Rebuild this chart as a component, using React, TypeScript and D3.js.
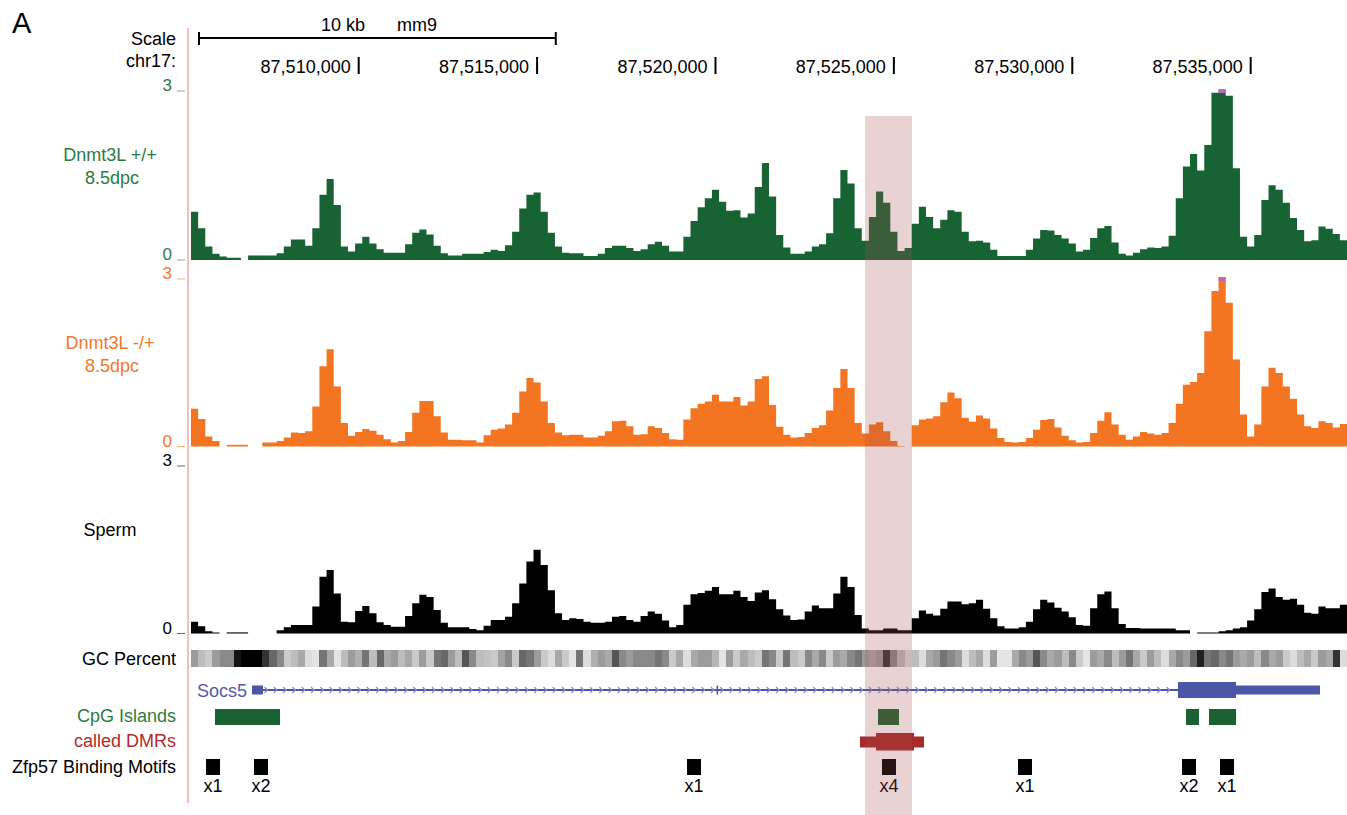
import React from 'react';
import * as d3 from 'd3';

// ---- genomic window (chr17, mm9) ----
const START = 87505300;
const BIN = 200;
const N_BINS = 162;
const END = START + N_BINS * BIN;

const posTicks = [87510000, 87515000, 87520000, 87525000, 87530000, 87535000];

// ---- signal tracks, one value per 200bp bin (null = no data) ----
const dnmtWT = [
  0.85, 0.56, 0.24, 0.11, 0.06, 0.04, 0.04, null, 0.08, 0.08,
  0.08, 0.08, 0.12, 0.24, 0.36, 0.36, 0.25, 0.56, 1.15, 1.43,
  0.97, 0.24, 0.15, 0.29, 0.41, 0.29, 0.19, 0.13, 0.13, 0.13,
  0.28, 0.48, 0.54, 0.45, 0.25, 0.12, 0.08, 0.08, 0.11, 0.11,
  0.11, 0.14, 0.18, 0.16, 0.26, 0.5, 0.91, 1.15, 1.19, 0.85,
  0.48, 0.24, 0.13, 0.12, 0.12, 0.07, 0.07, 0.11, 0.21, 0.25,
  0.25, 0.21, 0.16, 0.19, 0.28, 0.32, 0.25, 0.15, 0.15, 0.41,
  0.69, 0.93, 1.09, 1.24, 1.03, 0.87, 0.88, 0.75, 0.82, 1.29,
  1.71, 1.12, 0.44, 0.22, 0.11, 0.11, 0.15, 0.24, 0.28, 0.47,
  1.09, 1.59, 1.35, 0.56, 0.34, 0.76, 1.21, 1.01, 0.5, 0.16,
  0.21, 0.64, 0.94, 0.76, 0.56, 0.71, 0.88, 0.85, 0.5, 0.33,
  0.34, 0.31, 0.18, 0.07, 0.07, 0.07, 0.07, 0.18, 0.38, 0.53,
  0.52, 0.44, 0.38, 0.29, 0.15, 0.18, 0.39, 0.56, 0.6, 0.31,
  0.11, 0.08, 0.13, 0.19, 0.22, 0.21, 0.24, 0.43, 1.09, 1.65,
  1.87, 1.58, 2.03, 2.95, 3.3, 2.9, 1.62, 0.41, 0.24, 0.44,
  1.06, 1.32, 1.24, 1.01, 0.74, 0.53, 0.33, 0.35, 0.59, 0.55,
  0.46, 0.35,
];

const dnmtHet = [
  0.67, 0.49, 0.18, 0.1, null, 0.03, 0.03, 0.03, null, null,
  0.07, 0.07, 0.1, 0.16, 0.25, 0.24, 0.27, 0.71, 1.43, 1.73,
  1.07, 0.42, 0.19, 0.26, 0.31, 0.28, 0.21, 0.13, 0.07, 0.1,
  0.26, 0.6, 0.81, 0.81, 0.54, 0.25, 0.12, 0.12, 0.11, 0.11,
  0.07, 0.2, 0.3, 0.32, 0.39, 0.6, 0.98, 1.22, 1.14, 0.8,
  0.42, 0.25, 0.2, 0.21, 0.21, 0.16, 0.16, 0.19, 0.27, 0.45,
  0.46, 0.36, 0.21, 0.22, 0.36, 0.33, 0.24, 0.13, 0.12, 0.48,
  0.68, 0.76, 0.8, 0.92, 0.8, 0.8, 0.88, 0.73, 0.8, 1.2,
  1.25, 0.74, 0.35, 0.21, 0.16, 0.17, 0.24, 0.33, 0.38, 0.64,
  1.04, 1.38, 1.04, 0.42, 0.23, 0.39, 0.43, 0.27, 0.1, 0.01,
  null, 0.38, 0.48, 0.5, 0.54, 0.79, 0.96, 0.86, 0.51, 0.44,
  0.55, 0.5, 0.32, 0.15, 0.08, 0.07, 0.08, 0.15, 0.3, 0.47,
  0.49, 0.34, 0.19, 0.11, 0.07, 0.08, 0.24, 0.46, 0.61, 0.39,
  0.21, 0.12, 0.18, 0.26, 0.23, 0.21, 0.24, 0.42, 0.76, 1.1,
  1.15, 1.31, 2.05, 2.77, 3.1, 2.56, 1.55, 0.57, 0.18, 0.39,
  1.07, 1.4, 1.31, 1.07, 0.85, 0.57, 0.36, 0.33, 0.45, 0.42,
  0.34, 0.4,
];

const sperm = [
  0.21, 0.13, 0.04, 0.02, null, 0.02, 0.02, 0.02, null, null,
  null, null, 0.06, 0.11, 0.15, 0.15, 0.15, 0.48, 1.01, 1.13,
  0.71, 0.21, 0.2, 0.4, 0.49, 0.36, 0.2, 0.15, 0.12, 0.12,
  0.31, 0.54, 0.69, 0.65, 0.42, 0.19, 0.11, 0.11, 0.11, 0.08,
  0.06, 0.14, 0.24, 0.24, 0.3, 0.54, 0.89, 1.28, 1.49, 1.22,
  0.77, 0.36, 0.24, 0.27, 0.26, 0.21, 0.19, 0.19, 0.21, 0.3,
  0.31, 0.24, 0.21, 0.31, 0.39, 0.35, 0.23, 0.11, 0.15, 0.51,
  0.7, 0.72, 0.76, 0.83, 0.7, 0.7, 0.76, 0.65, 0.58, 0.73,
  0.77, 0.61, 0.43, 0.32, 0.24, 0.25, 0.39, 0.5, 0.45, 0.45,
  0.71, 1.01, 0.83, 0.33, 0.09, 0.06, 0.06, 0.09, 0.09, 0.06,
  0.06, 0.27, 0.41, 0.35, 0.32, 0.44, 0.57, 0.57, 0.52, 0.54,
  0.6, 0.44, 0.27, 0.13, 0.09, 0.09, 0.11, 0.21, 0.43, 0.6,
  0.55, 0.46, 0.39, 0.29, 0.15, 0.14, 0.45, 0.7, 0.75, 0.45,
  0.17, 0.1, 0.1, 0.09, 0.09, 0.09, 0.09, 0.09, 0.06, 0.06,
  null, 0.02, 0.02, 0.02, 0.04, 0.06, 0.09, 0.11, 0.23, 0.43,
  0.74, 0.8, 0.65, 0.6, 0.62, 0.51, 0.37, 0.35, 0.48, 0.45,
  0.45, 0.51,
];

// GC percent per bin
const gcPercent = [
  46, 41, 39, 46, 49, 49, 67, 70, 70, 70,
  62, 54, 49, 39, 41, 44, 36, 35, 52, 44,
  35, 41, 46, 43, 52, 41, 54, 44, 46, 41,
  44, 39, 46, 39, 52, 54, 46, 41, 57, 49,
  41, 40, 39, 45, 49, 39, 54, 52, 46, 39,
  36, 44, 39, 35, 52, 36, 43, 46, 44, 57,
  49, 46, 49, 49, 49, 52, 49, 39, 44, 36,
  44, 46, 46, 42, 35, 46, 39, 44, 41, 39,
  52, 49, 39, 52, 41, 39, 49, 44, 49, 39,
  46, 44, 49, 52, 46, 44, 46, 62, 49, 41,
  36, 41, 36, 44, 46, 52, 49, 46, 36, 41,
  44, 36, 46, 35, 35, 44, 49, 46, 57, 49,
  44, 46, 41, 49, 39, 35, 46, 44, 49, 41,
  46, 52, 44, 39, 46, 41, 36, 44, 49, 46,
  54, 65, 52, 54, 49, 52, 46, 44, 46, 41,
  49, 44, 46, 39, 36, 41, 44, 39, 46, 44,
  62, 36,
];

// ---- annotation tracks ----
const geneName = 'Socs5';
const geneExons = [
  [87507010, 87507318],
  [87520030, 87520075],
  [87532963, 87536943],
];
const geneCds = [87532963, 87534589];

const cpgIslands = [
  [87505973, 87507794],
  [87524555, 87525144],
  [87533187, 87533551],
  [87533832, 87534589],
];

const dmrOuter = [87524050, 87525844];
const dmrCore = [87524499, 87525564];

const motifPos = [87505917, 87507262, 87519398, 87524863, 87528675, 87533272, 87534337];
const motifLabels = ['x1', 'x2', 'x1', 'x4', 'x1', 'x2', 'x1'];

const highlight = [87524190, 87525508];
const scaleBarStart = 87505524;

const FONT = '"Liberation Sans", Arial, Helvetica, sans-serif';
const FS = 18;

const x = d3.scaleLinear().domain([START, END]).range([191, 1347]);

// split a binned series into contiguous runs of defined values
function runsOf(values: (number | null)[]) {
  const runs: { pos: number; v: number }[][] = [];
  let cur: { pos: number; v: number }[] | null = null;
  values.forEach((v, i) => {
    if (v == null) {
      if (cur) { cur.push({ pos: START + i * BIN, v: cur[cur.length - 1].v }); runs.push(cur); cur = null; }
      return;
    }
    if (!cur) cur = [];
    cur.push({ pos: START + i * BIN, v });
  });
  if (cur) { cur.push({ pos: END, v: cur[cur.length - 1].v }); runs.push(cur); }
  return runs;
}

function SignalTrack({ values, base, top, color, label1, label2, labelY, labelColor }: any) {
  const y = d3.scaleLinear().domain([0, 3]).range([base, top]).clamp(true);
  const area = d3.area<{ pos: number; v: number }>()
    .x((d) => x(d.pos))
    .y0(base)
    .y1((d) => y(d.v))
    .curve(d3.curveStepAfter);
  return (
    <g>
      {runsOf(values).map((run, i) => (
        <path key={i} d={area(run) || ''} fill={color} />
      ))}
      {values.map((v: number | null, i: number) =>
        v != null && v > 3 ? (
          <rect key={i} x={x(START + i * BIN)} width={x(START + (i + 1) * BIN) - x(START + i * BIN)}
            y={y(3) - 1} height={4} fill="#c266b4" />
        ) : null
      )}
      <text x={172} y={top + 1} textAnchor="end" fontSize={17} fill={labelColor}>3</text>
      <line x1={177} x2={185} y1={top + 1} y2={top + 1} stroke={labelColor} strokeOpacity={0.6} />
      <text x={172} y={base} textAnchor="end" fontSize={17} fill={labelColor}>0</text>
      <line x1={177} x2={185} y1={base} y2={base} stroke={labelColor} strokeOpacity={0.6} />
      <text x={110} y={labelY} textAnchor="middle" fontSize={FS} fill={labelColor}>{label1}</text>
      {label2 && <text x={112} y={labelY + 23} textAnchor="middle" fontSize={FS} fill={labelColor}>{label2}</text>}
    </g>
  );
}

export default function App() {
  const gcColor = (p: number) => {
    const g = Math.round(Math.max(0, Math.min(228, 228 - ((p - 35) / 35) * 228)));
    return `rgb(${g},${g},${g})`;
  };

  // intron chevrons
  const geneY = 690;
  const intronL = x(geneExons[0][1]) + 4;
  const intronR = x(geneExons[2][0]) - 3;
  const chevrons: number[] = [];
  for (let cx = intronL; cx < intronR; cx += 9.3) chevrons.push(cx);

  return (
    <svg
      width={1347}
      height={815}
      style={{ position: 'absolute', left: 0, top: 0, background: '#fff' }}
      fontFamily={FONT}
    >
      <rect width={1347} height={815} fill="#fff" />
      <text x={12} y={33} fontSize={29} fill="#000">A</text>

      {/* scale bar + coordinates */}
      <text x={176} y={45} textAnchor="end" fontSize={FS}>Scale</text>
      <text x={176} y={67} textAnchor="end" fontSize={FS}>chr17:</text>
      <line x1={x(scaleBarStart)} x2={x(scaleBarStart + 10000)} y1={38} y2={38} stroke="#000" strokeWidth={2} />
      <line x1={x(scaleBarStart)} x2={x(scaleBarStart)} y1={32} y2={45} stroke="#000" strokeWidth={2} />
      <line x1={x(scaleBarStart + 10000)} x2={x(scaleBarStart + 10000)} y1={32} y2={45} stroke="#000" strokeWidth={2} />
      <text x={343} y={31} textAnchor="middle" fontSize={FS}>10 kb</text>
      <text x={417} y={31} textAnchor="middle" fontSize={FS}>mm9</text>
      {posTicks.map((p) => (
        <g key={p}>
          <line x1={x(p)} x2={x(p)} y1={57} y2={74} stroke="#000" strokeWidth={2} />
          <text x={x(p) - 8} y={73} textAnchor="end" fontSize={FS}>{d3.format(',')(p)}</text>
        </g>
      ))}

      <SignalTrack values={dnmtWT} base={260} top={90} color="#186333"
        label1="Dnmt3L +/+" label2="8.5dpc" labelY={161} labelColor="#2e7b3d" />
      <SignalTrack values={dnmtHet} base={446.5} top={278} color="#f37421"
        label1="Dnmt3L -/+" label2="8.5dpc" labelY={349} labelColor="#f3772a" />
      <SignalTrack values={sperm} base={633.5} top={465} color="#000"
        label1="Sperm" label2={null} labelY={536} labelColor="#000" />

      {/* GC percent */}
      <text x={176} y={665} textAnchor="end" fontSize={FS}>GC Percent</text>
      <g shapeRendering="crispEdges">
        {gcPercent.map((p, i) => (
          <rect key={i} x={x(START + i * BIN)} width={x(START + (i + 1) * BIN) - x(START + i * BIN) + 0.5}
            y={650} height={17} fill={gcColor(p)} />
        ))}
      </g>

      {/* gene */}
      <text x={197} y={697} fontSize={FS} fill="#5259a8">{geneName}</text>
      <rect x={x(geneExons[0][0])} width={x(geneExons[2][1]) - x(geneExons[0][0])} y={geneY - 1} height={2} fill="#4c56a6" />
      {chevrons.map((cx, i) => (
        <path key={i} d={`M${cx - 2.5},${geneY - 3} L${cx + 0.5},${geneY} L${cx - 2.5},${geneY + 3}`}
          fill="none" stroke="#8a90cc" strokeWidth={1.2} />
      ))}
      {geneExons.map(([s, e], i) => (
        <rect key={i} x={x(s)} width={Math.max(1.5, x(e) - x(s))} y={geneY - 4.5} height={9} fill="#4c56a6" />
      ))}
      <rect x={x(geneCds[0])} width={x(geneCds[1]) - x(geneCds[0])} y={geneY - 8} height={16} fill="#4c56a6" />

      {/* CpG islands */}
      <text x={176} y={722} textAnchor="end" fontSize={FS} fill="#2e7b3d">CpG Islands</text>
      {cpgIslands.map(([s, e], i) => (
        <rect key={i} x={x(s)} width={x(e) - x(s)} y={709} height={16} fill="#1b6232" />
      ))}

      {/* DMRs */}
      <text x={176} y={747} textAnchor="end" fontSize={FS} fill="#b22a2a">called DMRs</text>
      <rect x={x(dmrOuter[0])} width={x(dmrOuter[1]) - x(dmrOuter[0])} y={736.5} height={11} fill="#a82a2a" />
      <rect x={x(dmrCore[0])} width={x(dmrCore[1]) - x(dmrCore[0])} y={733} height={17.5} fill="#a82a2a" />

      {/* Zfp57 motifs */}
      <text x={176} y={773} textAnchor="end" fontSize={FS}>Zfp57 Binding Motifs</text>
      {motifPos.map((p, i) => (
        <g key={i}>
          <rect x={x(p) - 7} width={14} y={759} height={16} fill="#000" />
          <text x={x(p)} y={792} textAnchor="middle" fontSize={FS}>{motifLabels[i]}</text>
        </g>
      ))}

      {/* highlight region */}
      <rect x={x(highlight[0])} width={x(highlight[1]) - x(highlight[0])} y={116} height={699}
        fill="rgb(164,77,77)" fillOpacity={0.25} />

      {/* left guide line */}
      <line x1={188} x2={188} y1={28} y2={803} stroke="#f4a9a9" strokeWidth={1.5} />
    </svg>
  );
}
